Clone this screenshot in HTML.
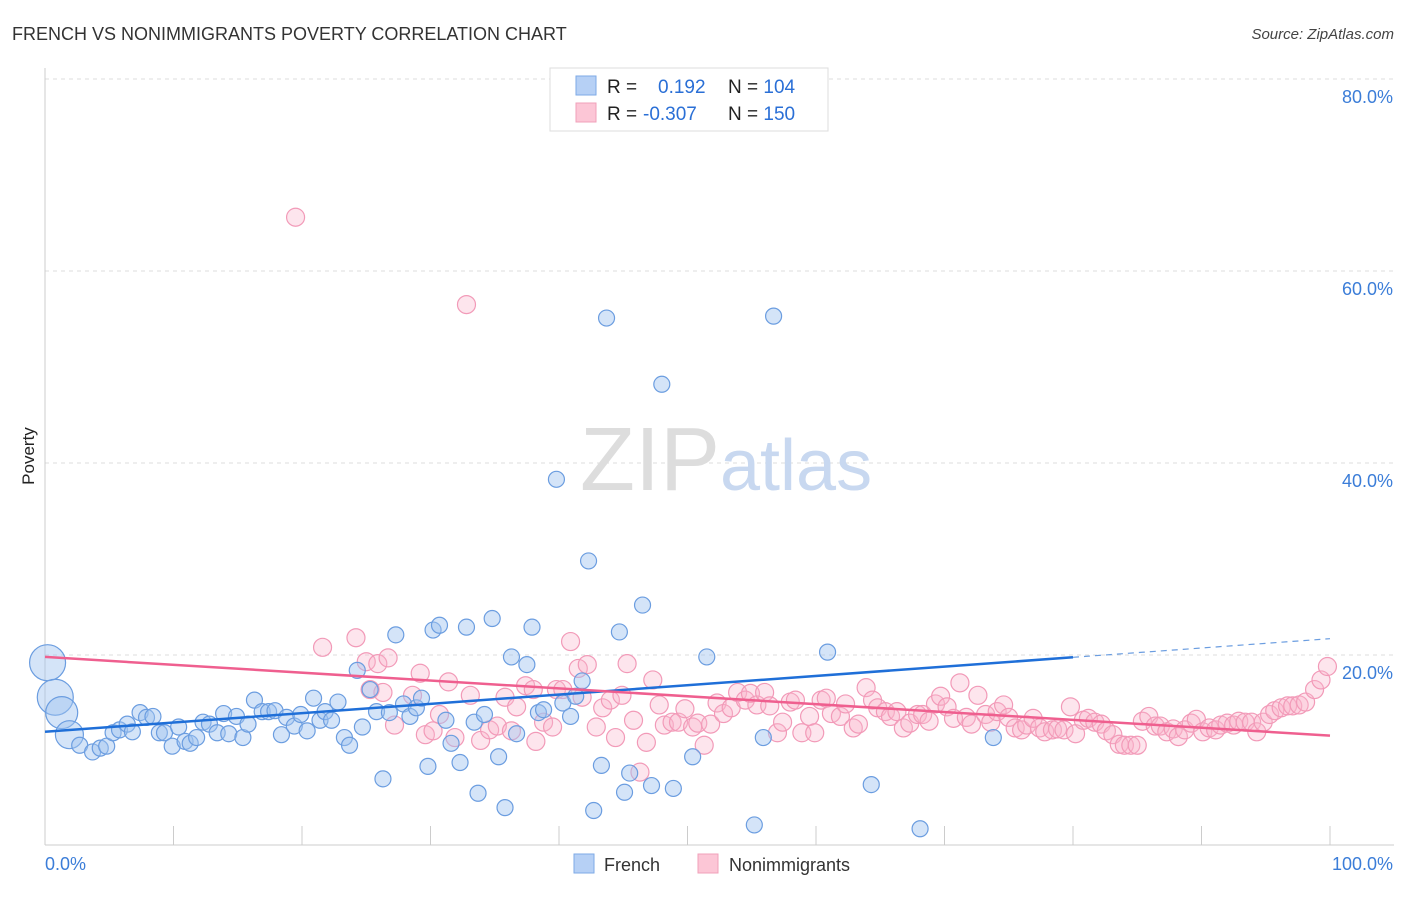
<!DOCTYPE html>
<html><head><meta charset="utf-8"><style>
body{margin:0;background:#fff;font-family:"Liberation Sans",sans-serif;}
svg text{font-family:"Liberation Sans",sans-serif;}
</style></head><body>
<svg id="chart" width="1406" height="892" xmlns="http://www.w3.org/2000/svg">
<text x="12" y="40" font-size="18" fill="#333">FRENCH VS NONIMMIGRANTS POVERTY CORRELATION CHART</text>
<text x="1394" y="39" font-size="15" fill="#444" font-style="italic" text-anchor="end">Source: ZipAtlas.com</text>
<text x="34" y="456" font-size="17" fill="#222" transform="rotate(-90 34 456)" text-anchor="middle">Poverty</text>
<g id="grid"></g>
<g id="axes"></g>
<text x="720" y="490" font-size="90" fill="#ddd" font-family="Liberation Serif" text-anchor="end">ZIP</text>
<text x="720" y="490" font-size="72" fill="#c8d8f0">atlas</text>
<g id="pts"></g>
<g id="trends"></g>
<g>
<rect x="550" y="68" width="278" height="63" fill="#fff" stroke="#ddd"/>
<rect x="576" y="76" width="20" height="19" fill="#b6d0f5" stroke="#7eaae6"/>
<rect x="576" y="103" width="20" height="19" fill="#fcc6d6" stroke="#f0a0ba"/>
<text x="607" y="93" font-size="19" fill="#222">R = <tspan x="658" fill="#2a6fd6">0.192</tspan><tspan x="728" fill="#222">N = </tspan><tspan fill="#2a6fd6">104</tspan></text>
<text x="607" y="120" font-size="19" fill="#222">R = <tspan x="643" fill="#2a6fd6">-0.307</tspan><tspan x="728" fill="#222">N = </tspan><tspan fill="#2a6fd6">150</tspan></text>
</g>
<g>
<rect x="574" y="854" width="20" height="19" fill="#b6d0f5" stroke="#7eaae6"/>
<text x="604" y="871" font-size="18" fill="#333">French</text>
<rect x="698" y="854" width="20" height="19" fill="#fcc6d6" stroke="#f0a0ba"/>
<text x="729" y="871" font-size="18" fill="#333">Nonimmigrants</text>
</g>
</svg>
<script>
const yTicks=[20,40,60,80];
const yTickLabels=["20.0%","40.0%","60.0%","80.0%"];
const xTickVals=[0,10,20,30,40,50,60,70,80,90,100];
const xEndLabels=["0.0%","100.0%"];
const frenchX=[0.2,0.8,1.3,1.9,2.7,3.7,4.3,4.8,5.3,5.8,6.4,6.8,7.4,7.9,8.4,8.9,9.3,9.9,10.4,10.9,11.3,11.8,12.3,12.8,13.4,13.9,14.3,14.9,15.4,15.8,16.3,16.9,17.4,17.9,18.4,18.8,19.4,19.9,20.4,20.9,21.4,21.8,22.3,22.8,23.3,23.7,24.3,24.7,25.3,25.8,26.3,26.8,27.3,27.9,28.4,28.9,29.3,29.8,30.2,30.7,31.2,31.6,32.3,32.8,33.4,33.7,34.2,34.8,35.3,35.8,36.3,36.7,37.5,37.9,38.4,38.8,39.8,40.3,40.9,41.3,41.8,42.3,42.7,43.3,43.7,44.7,45.1,45.5,46.5,47.2,48.0,48.9,50.4,51.5,55.2,55.9,56.7,60.9,64.3,68.1,73.8];
const frenchY=[19.2,15.6,14.0,11.7,10.6,9.9,10.3,10.5,11.9,12.2,12.8,12.0,14.0,13.5,13.6,11.9,11.9,10.5,12.5,11.0,10.8,11.4,13.0,12.8,11.9,13.9,11.8,13.6,11.4,12.8,15.3,14.1,14.1,14.2,11.7,13.5,12.6,13.8,12.1,15.5,13.2,14.1,13.2,15.1,11.4,10.6,18.4,12.5,16.4,14.1,7.1,14.0,22.1,14.9,13.6,14.5,15.5,8.4,22.6,23.1,13.2,10.8,8.8,22.9,13.0,5.6,13.8,23.8,9.4,4.1,19.8,11.8,19.0,22.9,14.0,14.3,38.3,15.0,13.6,15.7,17.3,29.8,3.8,8.5,55.1,22.4,5.7,7.7,25.2,6.4,48.2,6.1,9.4,19.8,2.3,11.4,55.3,20.3,6.5,1.9,11.4];
const frenchBig=[18,18,16,14];
const nonX=[19.5,32.8,21.6,24.2,25.0,25.9,26.7,25.3,26.3,27.2,28.6,29.2,29.6,30.2,30.7,31.4,31.9,33.1,33.9,34.6,35.2,35.8,36.3,36.7,37.4,38.0,38.2,38.8,39.5,39.8,40.3,40.9,41.5,41.8,42.2,42.9,43.4,44.0,44.4,44.9,45.3,45.8,46.3,46.8,47.3,47.8,48.2,48.8,49.3,49.8,50.4,50.8,51.3,51.8,52.3,52.8,53.4,53.9,54.5,54.9,55.4,56.0,56.4,57.0,57.4,58.0,58.4,58.9,59.5,59.9,60.4,60.8,61.2,61.9,62.3,62.9,63.3,63.9,64.4,64.8,65.4,65.8,66.3,66.8,67.3,67.9,68.3,68.8,69.3,69.7,70.2,70.7,71.2,71.7,72.1,72.6,73.2,73.6,74.1,74.6,75.0,75.5,76.0,76.4,76.9,77.4,77.8,78.4,78.8,79.3,79.8,80.2,80.8,81.2,81.7,82.2,82.6,83.1,83.6,84.0,84.5,85.0,85.4,85.9,86.4,86.8,87.3,87.8,88.2,88.7,89.2,89.6,90.1,90.6,91.1,91.5,92.0,92.5,92.9,93.4,93.9,94.3,94.8,95.3,95.7,96.2,96.7,97.1,97.6,98.1,98.8,99.3,99.8];
const nonY=[65.6,56.5,20.8,21.8,19.3,19.1,19.7,16.4,16.1,12.7,15.8,18.1,11.7,12.1,13.8,17.2,11.4,15.8,11.1,12.2,12.6,15.6,12.1,14.6,16.8,16.4,11.0,13.0,12.5,16.4,16.4,21.4,18.6,15.6,19.0,12.5,14.5,15.3,11.4,15.8,19.1,13.2,7.8,10.9,17.4,14.8,12.7,13.0,13.0,14.4,12.5,12.9,10.6,12.8,15.0,13.9,14.5,16.1,15.3,16.0,14.8,16.1,14.7,11.9,13.0,15.1,15.3,11.9,13.6,11.9,15.3,15.5,13.9,13.6,14.9,12.4,12.8,16.6,15.3,14.5,14.1,13.6,14.1,12.4,12.9,13.8,13.8,13.1,14.9,15.7,14.6,13.4,17.1,13.5,12.8,15.8,13.8,13.0,14.1,14.8,13.5,12.4,12.2,12.7,13.4,12.4,12.0,12.2,12.3,12.2,14.6,11.8,13.2,13.4,13.0,12.8,12.1,11.7,10.7,10.6,10.6,10.6,13.1,13.6,12.6,12.6,12.0,12.3,11.5,12.2,12.9,13.3,12.0,12.4,12.2,12.7,12.9,12.7,13.1,13.0,13.0,12.0,13.0,13.8,14.2,14.5,14.7,14.7,14.8,15.1,16.4,17.4,18.8];
const frenchTrend=[12.0,21.7];
const nonTrend=[19.8,11.6];
const frenchSolidEnd=80;

const NS="http://www.w3.org/2000/svg";
const X0=45,X1=1330,Y0=847,YPER=9.6;
const sx=v=>X0+(X1-X0)*v/100;
const sy=v=>Y0-v*YPER;
function mk(tag,attrs,parent){const e=document.createElementNS(NS,tag);for(const k in attrs)e.setAttribute(k,attrs[k]);parent.appendChild(e);return e;}
const grid=document.getElementById('grid'),axes=document.getElementById('axes'),pts=document.getElementById('pts'),tr=document.getElementById('trends');
yTicks.forEach((t,i)=>{
  const l=mk('line',{x1:45,x2:1394,y1:sy(t),y2:sy(t),stroke:'#ddd','stroke-dasharray':'4,4'},grid);
  
  
  const tx=mk('text',{x:1393,y:sy(t)+24,'font-size':18,fill:'#3b7dd8','text-anchor':'end'},axes);
  tx.textContent=yTickLabels[i];
  
  
});
const yax=mk('line',{x1:45,x2:45,y1:68,y2:845,stroke:'#ccc'},axes);


const xax=mk('line',{x1:45,x2:1394,y1:845,y2:845,stroke:'#ccc'},axes);


xTickVals.forEach(v=>{
  const t=mk('line',{x1:sx(v),x2:sx(v),y1:826,y2:845,stroke:'#ccc'},axes);
  
  
});
const xl0=mk('text',{x:45,y:870,'font-size':18,fill:'#3b7dd8'},axes);xl0.textContent=xEndLabels[0];


const xl1=mk('text',{x:1393,y:870,'font-size':18,fill:'#3b7dd8','text-anchor':'end'},axes);xl1.textContent=xEndLabels[1];



nonX.forEach((x,i)=>{
  const c=mk('circle',{cx:sx(x),cy:sy(nonY[i]),r:9,fill:'rgba(248,180,204,0.35)',stroke:'#f29ab8','stroke-width':1.2},pts);
  
  
});
frenchX.forEach((x,i)=>{
  const r=i<frenchBig.length?frenchBig[i]:8;
  const c=mk('circle',{cx:sx(x),cy:sy(frenchY[i]),r:r,fill:'rgba(160,196,240,0.45)',stroke:'#6b9de0','stroke-width':1.2},pts);
  
  
});
const fy=x=>frenchTrend[0]+(frenchTrend[1]-frenchTrend[0])*x/100;
const l1=mk('line',{x1:sx(0),y1:sy(fy(0)),x2:sx(frenchSolidEnd),y2:sy(fy(frenchSolidEnd)),stroke:'#1f6fd8','stroke-width':2.5},tr);


const l2=mk('line',{x1:sx(frenchSolidEnd),y1:sy(fy(frenchSolidEnd)),x2:sx(100),y2:sy(fy(100)),stroke:'#6b9de0','stroke-width':1.2,'stroke-dasharray':'6,5'},tr);


const l3=mk('line',{x1:sx(0),y1:sy(nonTrend[0]),x2:sx(100),y2:sy(nonTrend[1]),stroke:'#ef5f8f','stroke-width':2.5},tr);


</script>
</body></html>
